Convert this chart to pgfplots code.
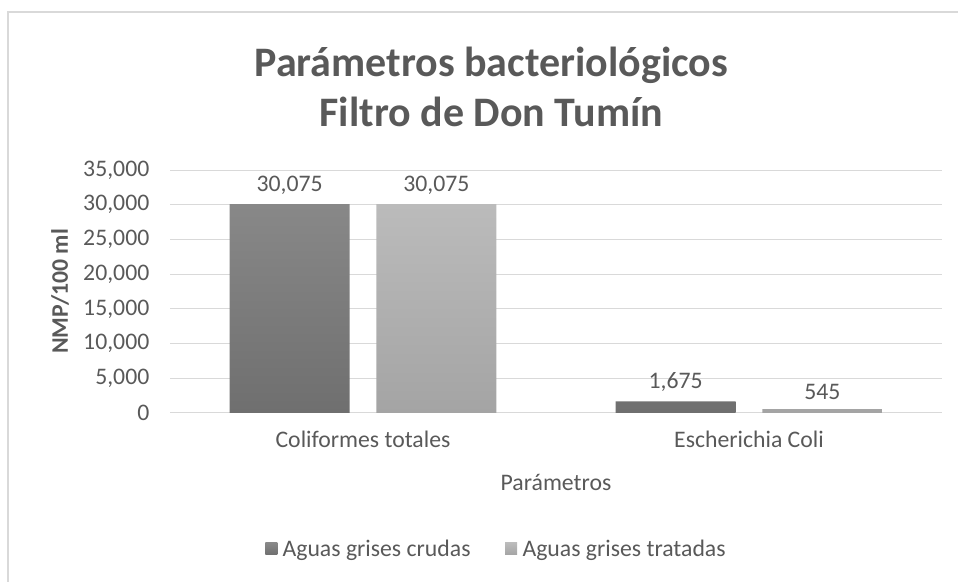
\documentclass[border=0pt]{standalone}
\usepackage{fontspec}
\setmainfont{Carlito}
\usepackage{pgfplots}
\pgfplotsset{compat=1.18}
\definecolor{txt}{HTML}{595959}
\definecolor{gridc}{HTML}{D9D9D9}
\definecolor{c1top}{HTML}{888888}
\definecolor{c1bot}{HTML}{6F6F6F}
\definecolor{c2top}{HTML}{BBBBBB}
\definecolor{c2bot}{HTML}{A4A4A4}
\newcommand{\lab}{\fontsize{17.8pt}{21pt}\selectfont}
\begin{document}
\begin{tikzpicture}
\path[use as bounding box] (0pt,0pt) rectangle (718.5pt,436.5pt);
\draw[gridc, line width=1.5pt] (6pt,-1pt) -- (6pt,427.5pt) -- (720pt,427.5pt);
\node[align=center, text=txt, font=\fontsize{31.5pt}{37.5pt}\selectfont\bfseries] at (368.5pt,371pt) {Parámetros bacteriológicos\\Filtro de Don Tumín};
\begin{axis}[
  at={(127.5pt,126.75pt)}, anchor=south west,
  scale only axis, width=579pt, height=182.25pt,
  xmin=-0.5, xmax=1.5, ymin=0, ymax=35000,
  ytick={0,5000,...,35000},
  scaled y ticks=false,
  yticklabel style={/pgf/number format/fixed},
  xtick={0,1}, xticklabels={Coliformes totales,Escherichia Coli},
  ymajorgrids, grid style={gridc, line width=0.75pt},
  separate axis lines,
  axis lines*=left,
  x axis line style={-, gridc, line width=0.75pt},
  y axis line style={-, draw=none},
  major tick length=0pt, tick style={draw=none},
  /pgf/number format/1000 sep={,},
  /pgf/number format/assume math mode=true,
  ticklabel style={font=\lab, text=txt},
  yticklabel style={xshift=-12pt},
  xticklabel style={yshift=-10pt},
  ylabel={\bfseries NMP/100 ml},
  ylabel style={at={(axis description cs:-0.1425,0.5)}, anchor=center, font=\lab, text=txt},
  xlabel={Parámetros},
  xlabel style={at={(axis description cs:0.5,0)}, yshift=-51.75pt, anchor=center, font=\lab, text=txt},
  ybar, bar width=0.311,
  nodes near coords,
  every node near coord/.append style={font=\lab, text=txt, yshift=4pt},
  legend style={at={(axis description cs:0.425,0)}, yshift=-102pt, anchor=center, draw=none, fill=none,
    legend columns=2, font=\lab, text=txt,
    nodes={inner xsep=4pt},
    /tikz/every even column/.append style={column sep=22pt}},
  legend image code/.code={\path[#1, draw=none] (0pt,-4.5pt) rectangle (9pt,4.5pt);},
]
\addplot[draw=none, top color=c1top, bottom color=c1bot, bar shift=-0.19] coordinates {(0,30075) (1,1675)};
\addplot[draw=none, top color=c2top, bottom color=c2bot, bar shift=0.19] coordinates {(0,30075) (1,545)};
\legend{Aguas grises crudas, Aguas grises tratadas}
\end{axis}
\end{tikzpicture}
\end{document}
